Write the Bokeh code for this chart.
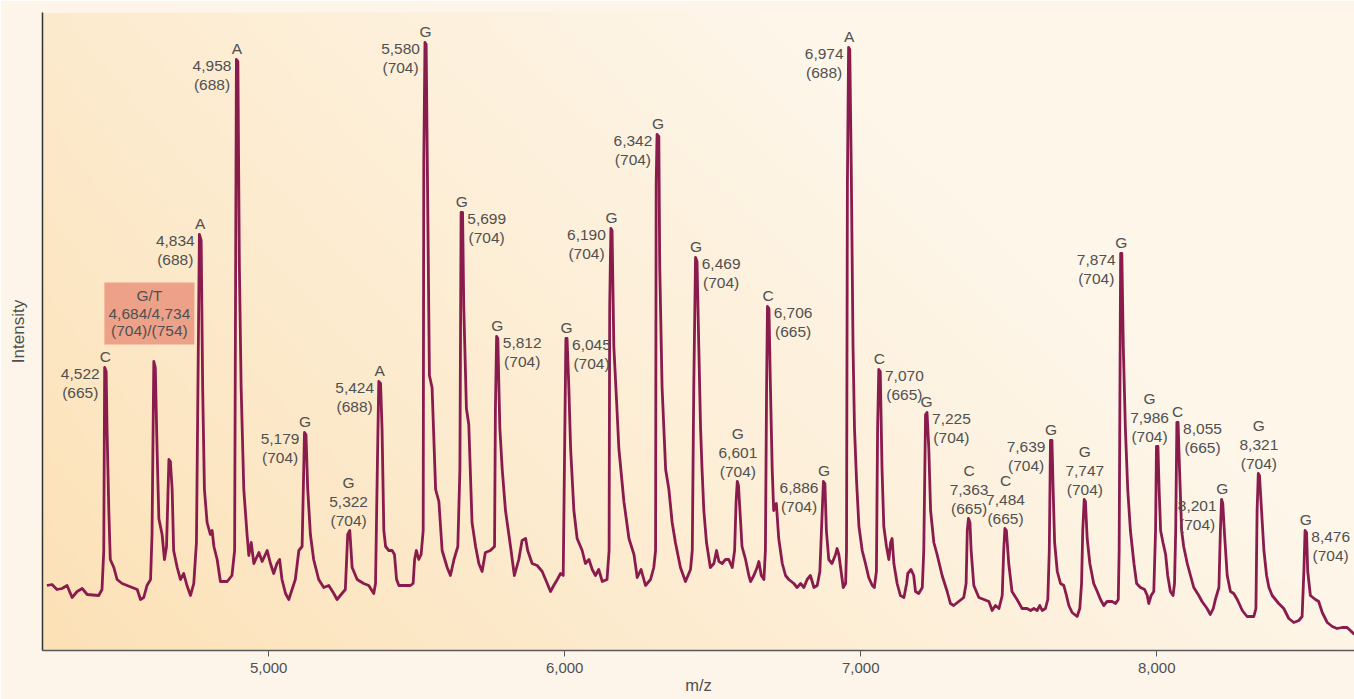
import numpy as np
from bokeh.plotting import figure
from bokeh.models import FixedTicker, NumeralTickFormatter, ColumnDataSource, Range1d
from bokeh.core.properties import value
from bokeh.embed import file_html
from bokeh.resources import INLINE

# ---------------- data ----------------
mz = [4251, 4268, 4285, 4302, 4319, 4336, 4353, 4370, 4387, 4426, 4437, 4443, 4446, 4451, 4454, 4460,
      4465, 4477, 4488, 4505, 4522, 4556, 4567, 4578, 4589, 4601, 4606, 4612, 4617, 4623, 4629, 4640,
      4648, 4655, 4663, 4668, 4674, 4679, 4691, 4702, 4713, 4724, 4736, 4747, 4756, 4760, 4766, 4772,
      4777, 4783, 4792, 4803, 4809, 4815, 4826, 4837, 4860, 4876, 4885, 4891, 4896, 4901, 4907, 4916,
      4927, 4933, 4941, 4950, 4967, 4978, 4995, 5006, 5017, 5028, 5037, 5045, 5057, 5068, 5079, 5090,
      5102, 5113, 5121, 5126, 5132, 5141, 5152, 5169, 5186, 5203, 5220, 5231, 5242, 5259, 5267, 5274,
      5282, 5299, 5321, 5338, 5355,
      5361, 5367, 5372, 5378, 5383, 5389, 5395, 5406, 5417, 5425, 5432, 5440, 5457, 5479, 5488, 5493,
      5499, 5507, 5515, 5522, 5524, 5528, 5532, 5538, 5543, 5552, 5564, 5575, 5586, 5603, 5614, 5626,
      5639, 5646, 5650, 5655, 5659, 5668, 5676, 5687, 5699, 5710, 5721, 5732, 5749, 5763, 5766, 5770,
      5774, 5781, 5789, 5800, 5817, 5830, 5845, 5856, 5868, 5875, 5890, 5907, 5924, 5941, 5952, 5963,
      5975, 5986, 5995, 5999, 6004, 6008, 6014, 6020, 6031, 6042, 6059, 6070, 6082, 6093, 6104, 6115,
      6127, 6143, 6150, 6152, 6156, 6160, 6166, 6175, 6183, 6200, 6217, 6234, 6245, 6258, 6273, 6290,
      6301, 6307, 6309, 6312, 6318, 6321, 6329, 6341, 6352, 6363, 6374, 6391, 6408, 6425, 6431, 6436,
      6442, 6447, 6453, 6459,
      6464, 6470, 6479, 6492, 6504, 6513, 6521, 6532, 6543, 6554, 6566, 6574, 6579, 6583, 6587, 6592,
      6599, 6611, 6622, 6628, 6639, 6650, 6656, 6664, 6673, 6678, 6682, 6685, 6690, 6695, 6701, 6706,
      6715, 6723, 6735, 6746, 6757, 6774, 6785, 6797, 6808, 6819, 6830, 6842, 6853, 6862, 6870, 6874,
      6879, 6884, 6892, 6903, 6915, 6920, 6926, 6932, 6941, 6949, 6952, 6955, 6959, 6963, 6968, 6974,
      6979, 6986, 6994, 7005, 7016, 7027, 7039, 7046, 7053, 7057, 7061, 7066, 7072, 7078, 7087, 7095,
      7101, 7106, 7112, 7123, 7134, 7146, 7155, 7159, 7170, 7179, 7185, 7196, 7208, 7213, 7219, 7224,
      7230, 7236, 7247, 7258, 7275, 7292, 7303, 7314, 7331, 7348, 7356, 7360, 7364, 7369, 7373, 7382,
      7399, 7416, 7433, 7444, 7455, 7467, 7478, 7483, 7487, 7492, 7500, 7511, 7528, 7545, 7562,
      7574, 7585, 7596, 7605, 7613, 7624, 7632, 7637, 7641, 7646, 7650, 7655, 7664, 7675, 7686, 7695,
      7703, 7714, 7731, 7740, 7746, 7750, 7755, 7759, 7765, 7774, 7787, 7799, 7810, 7821, 7832, 7849,
      7861, 7870, 7873, 7878, 7882, 7887, 7894, 7902, 7911, 7923, 7932, 7945, 7959, 7968, 7973, 7981,
      7990, 7996, 7999, 8004, 8008, 8013, 8021, 8030, 8037, 8046, 8055, 8060, 8064, 8068, 8072, 8077,
      8084, 8091, 8103, 8114, 8125, 8142, 8153, 8170, 8181, 8191, 8198, 8210, 8215, 8219, 8223, 8229,
      8238, 8249, 8260, 8272, 8289, 8305, 8328, 8335, 8339, 8343, 8347, 8354, 8362, 8371, 8379, 8390,
      8412, 8429, 8446, 8463, 8480, 8491, 8497, 8501, 8506, 8510, 8519, 8536, 8547, 8559, 8576, 8593,
      8609, 8626, 8643, 8654, 8668]

intensity = [65, 66, 61, 62, 65, 53, 59, 62, 56, 55, 61, 100, 283, 279, 222, 140,
             91, 83, 71, 67, 65, 61, 51, 53, 65, 71, 116, 289, 283, 202, 132, 116,
             91, 104, 191, 189, 161, 100, 83, 71, 77, 65, 55, 67, 108, 230, 416, 410,
             263, 161, 128, 116, 120, 104, 91, 69, 69, 75, 100, 591, 589, 385, 263, 161,
             116, 95, 108, 87, 98, 89, 100, 87, 77, 87, 91, 71, 57, 51, 61, 71,
             100, 104, 218, 216, 161, 116, 91, 71, 63, 65, 57, 51, 55, 61, 116, 120,
             83, 71, 67, 65, 57,
             67, 181, 269, 267, 222, 120, 104, 100, 100, 96, 71, 65, 65, 65, 67, 91,
             100, 91, 96, 120, 487, 608, 606, 426, 275, 263, 161, 149, 100, 83, 75, 91,
             104, 181, 438, 438, 344, 242, 226, 128, 104, 87, 79, 98, 100, 104, 242, 314,
             312, 222, 181, 140, 104, 75, 91, 110, 112, 100, 87, 85, 79, 67, 59, 65,
             71, 77, 75, 181, 312, 312, 263, 202, 140, 112, 100, 87, 91, 81, 75, 81,
             69, 71, 100, 344, 422, 420, 304, 251, 202, 149, 112, 96, 73, 81, 65, 71,
             83, 100, 467, 516, 514, 385, 263, 181, 161, 128, 108, 83, 69, 81, 100, 263,
             393, 389, 304, 222,
             181, 140, 108, 83, 87, 100, 89, 87, 91, 91, 83, 100, 149, 169, 165, 140,
             104, 91, 75, 69, 75, 83, 89, 75, 71, 100, 263, 344, 342, 263, 181, 140,
             147, 112, 87, 75, 71, 67, 63, 67, 63, 71, 75, 63, 65, 79, 140, 169,
             167, 120, 91, 87, 96, 102, 96, 83, 63, 67, 100, 467, 603, 601, 483, 304,
             222, 169, 124, 100, 87, 73, 65, 63, 79, 222, 281, 279, 181, 124, 104, 91,
             108, 112, 87, 67, 55, 53, 67, 77, 81, 75, 59, 57, 63, 100, 236, 238,
             202, 140, 108, 96, 75, 59, 47, 45, 49, 53, 67, 120, 132, 128, 100, 65,
             53, 51, 49, 40, 45, 42, 55, 100, 122, 120, 87, 59, 51, 42, 42,
             40, 42, 40, 45, 40, 42, 51, 100, 210, 210, 161, 108, 79, 67, 65, 55,
             45, 38, 34, 42, 67, 120, 151, 149, 112, 87, 67, 59, 51, 45, 49, 49,
             47, 51, 100, 397, 397, 304, 222, 161, 120, 87, 67, 63, 61, 55, 47, 55,
             59, 120, 204, 204, 161, 120, 108, 96, 75, 59, 55, 67, 120, 228, 228, 181,
             120, 104, 87, 75, 63, 55, 49, 42, 36, 42, 51, 63, 120, 151, 147, 116,
             75, 59, 57, 51, 40, 34, 34, 42, 140, 177, 175, 140, 100, 75, 63, 55,
             47, 42, 32, 28, 30, 34, 79, 120, 118, 79, 55, 51, 49, 38, 28, 24,
             22, 23, 23, 20, 16]

tick_values = [5000, 6000, 7000, 8000]

# labelled peaks: plotted position, base, mass, fragment length, label side
peak_mz = [4448, 4769, 4893, 5123, 5270, 5375, 5530, 5652, 5772, 6006, 6158, 6315, 6444, 6585,
           6687, 6876, 6961, 7063, 7222, 7366, 7489, 7643, 7757, 7880, 8006, 8070, 8221, 8345, 8503]
peak_base = ["C", "A", "A", "G", "G", "A", "G", "G", "G", "G", "G", "G", "G", "G",
             "C", "G", "A", "C", "G", "C", "C", "G", "G", "G", "G", "C", "G", "G", "G"]
peak_mass = ["4,522", "4,834", "4,958", "5,179", "5,322", "5,424", "5,580", "5,699", "5,812",
             "6,045", "6,190", "6,342", "6,469", "6,601", "6,706", "6,886", "6,974", "7,070",
             "7,225", "7,363", "7,484", "7,639", "7,747", "7,874", "7,986", "8,055", "8,201",
             "8,321", "8,476"]
peak_len = ["(665)", "(688)", "(688)", "(704)", "(704)", "(688)", "(704)", "(704)", "(704)",
            "(704)", "(704)", "(704)", "(704)", "(704)", "(665)", "(704)", "(688)", "(665)",
            "(704)", "(665)", "(665)", "(704)", "(704)", "(704)", "(704)", "(665)", "(704)",
            "(704)", "(704)"]
peak_side = ["L", "L", "L", "L", "A", "L", "L", "R", "R", "R", "L", "L", "R", "A",
             "R", "L", "L", "R", "R", "A", "A", "L", "A", "L", "A", "R", "L", "A", "R"]

box_peak_mz = 4614
box_lines = ["G/T", "4,684/4,734", "(704)/(754)"]

# ---------------- layout / style ----------------
W, H = 1354, 699
BORDER_L, BORDER_R, BORDER_T, BORDER_B = 42, 0, 12, 49
X_START, X_END = 4236, 8668
Y_END = 638
FRAME_W = W - BORDER_L - BORDER_R
MZ_PER_PX = (X_END - X_START) / FRAME_W

LINE_COLOR = "#8a1b4d"
TEXT_COLOR = "#505050"
FONT = "Liberation Sans"
FS = "15.5px"

# side -> (letter dy, number dx, line1 dy, line2 dy) in screen px
LAYOUT = {"L": (-11, -25, 6, 25), "R": (-11, 25, 6, 25), "A": (-48, 0, -29, -10)}
SHIFT = {"7,986": -9}

p = figure(width=W, height=H, output_backend="svg", toolbar_location=None,
           x_range=Range1d(X_START, X_END), y_range=Range1d(0, Y_END),
           min_border_left=BORDER_L, min_border_right=BORDER_R,
           min_border_top=BORDER_T, min_border_bottom=BORDER_B)
p.outline_line_color = None
p.border_fill_color = "#fdf5ea"
p.background_fill_color = "#fdeed8"
p.xgrid.visible = False
p.ygrid.visible = False

# gradient background (style only)
ny, nx = 128, 256
xn = np.linspace(0, 1, nx)[None, :]
yn = np.linspace(0, 1, ny)[:, None]
t = np.clip(0.95 * xn ** 0.9 + 0.45 * yn, 0, 1)
c0 = np.array([252, 225, 182])
c1 = np.array([254, 246, 233])
rgb = c0[None, None, :] + (c1 - c0)[None, None, :] * t[:, :, None]
img = np.empty((ny, nx), dtype=np.uint32)
view = img.view(dtype=np.uint8).reshape((ny, nx, 4))
view[:, :, 0] = rgb[:, :, 0].astype(np.uint8)
view[:, :, 1] = rgb[:, :, 1].astype(np.uint8)
view[:, :, 2] = rgb[:, :, 2].astype(np.uint8)
view[:, :, 3] = 255
p.image_rgba(image=[img], x=X_START, y=0, dw=X_END - X_START, dh=Y_END)

mz_arr = np.array(mz, dtype=float)
int_arr = np.array(intensity, dtype=float)


def top_of(x0):
    sel = np.abs(mz_arr - x0) <= 10
    return float(int_arr[sel].max())


# G/T box
box_top = top_of(box_peak_mz)
bx = box_peak_mz - 5 * MZ_PER_PX
by = box_top + 48
p.rect(x=[bx], y=[by], width=90, height=62, width_units="screen", height_units="screen",
       fill_color="#eda189", line_color=None)
p.text(x=[bx] * 3, y=[by] * 3, text=box_lines, x_offset=[0, 0, 0], y_offset=[-18, 0, 17],
       text_align="center", text_baseline="middle", text_font=value(FONT),
       text_font_size=FS, text_color=TEXT_COLOR)

# spectrum
p.line(mz, intensity, line_color=LINE_COLOR, line_width=2.8, line_join="round")

# peak labels
xs, ys, txt, xo, yo = [], [], [], [], []
for x0, b, m, ln, side in zip(peak_mz, peak_base, peak_mass, peak_len, peak_side):
    top = top_of(x0)
    ldy, ndx, d1, d2 = LAYOUT[side]
    sh = SHIFT.get(m, 0)
    for s, dx, dy in ((b, sh, ldy), (m, ndx + sh, d1), (ln, ndx + sh, d2)):
        xs.append(x0); ys.append(top); txt.append(s); xo.append(dx); yo.append(dy)
src = ColumnDataSource(dict(x=xs, y=ys, text=txt, xo=xo, yo=yo))
p.text(x="x", y="y", text="text", x_offset="xo", y_offset="yo", source=src,
       text_align="center", text_baseline="middle", text_font=value(FONT),
       text_font_size=FS, text_color=TEXT_COLOR)

# axes
xa = p.xaxis[0]
xa.ticker = FixedTicker(ticks=tick_values)
xa.formatter = NumeralTickFormatter(format="0,0")
xa.axis_line_color = "#5a5a5a"
xa.axis_line_width = 1.5
xa.major_tick_line_color = "#5a5a5a"
xa.major_tick_out = 6
xa.major_tick_in = 0
xa.minor_tick_line_color = None
xa.major_label_standoff = 6
xa.major_label_text_font = FONT
xa.major_label_text_font_size = "15px"
xa.major_label_text_color = TEXT_COLOR
xa.axis_label = "m/z"
xa.axis_label_text_font = FONT
xa.axis_label_text_font_size = "16.5px"
xa.axis_label_text_font_style = "normal"
xa.axis_label_text_color = TEXT_COLOR
xa.axis_label_standoff = 0

ya = p.yaxis[0]
ya.ticker = FixedTicker(ticks=[])
ya.axis_line_color = "#333333"
ya.axis_line_width = 1.5
ya.major_tick_out = 0
ya.major_tick_in = 0
ya.minor_tick_line_color = None
ya.major_label_text_font_size = "0px"
ya.major_label_standoff = 0
ya.axis_label = "Intensity"
ya.axis_label_text_font = FONT
ya.axis_label_text_font_size = "17px"
ya.axis_label_text_font_style = "normal"
ya.axis_label_text_color = TEXT_COLOR
ya.axis_label_standoff = 15

open("out.html", "w").write(file_html(p, INLINE))
